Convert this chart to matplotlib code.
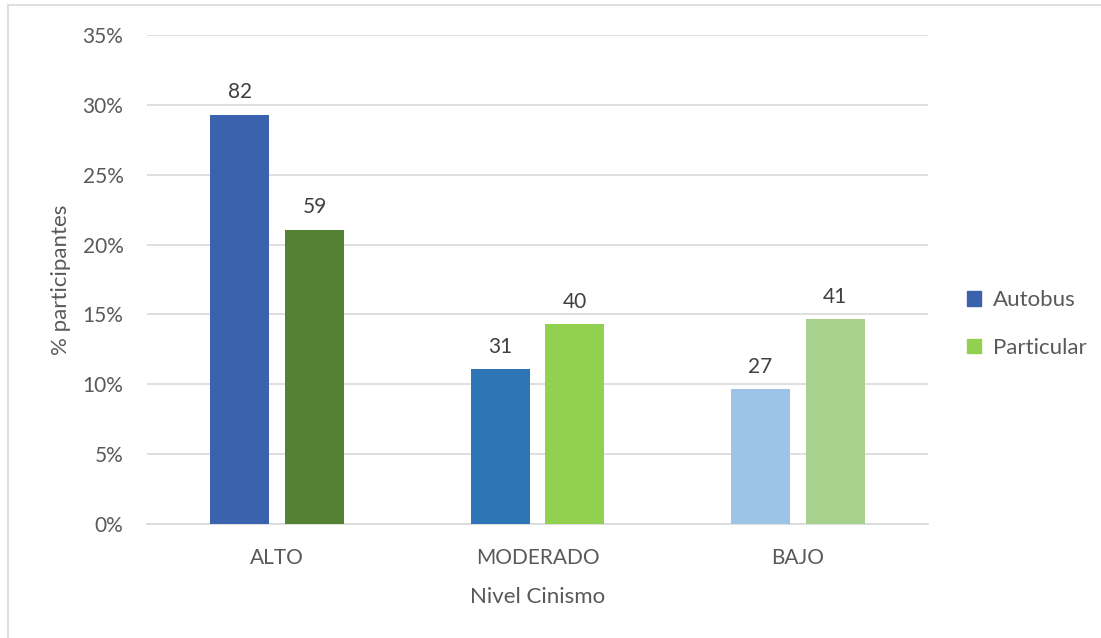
import matplotlib
matplotlib.use("Agg")
import matplotlib.pyplot as plt
from matplotlib.patches import Rectangle, Patch
import numpy as np

categories = ["ALTO", "MODERADO", "BAJO"]
autobus_counts = [82, 31, 27]
particular_counts = [59, 40, 41]
autobus_pct = [29.29, 11.07, 9.64]
particular_pct = [21.07, 14.29, 14.64]
yticks = [0, 5, 10, 15, 20, 25, 30, 35]

autobus_colors = ["#3A62AD", "#2E75B6", "#9DC3E6"]
particular_colors = ["#548235", "#92D050", "#A9D18E"]

plt.rcParams['font.family'] = ['Lato', 'DejaVu Sans']
txt = "#595959"
fs = 15

W, H = 1101, 638
fig = plt.figure(figsize=(W/100, H/100), dpi=100)
fig.patches.append(Rectangle((8/W, -0.1), 1.2, 1 - 5/H + 0.1, transform=fig.transFigure,
                             fill=False, edgecolor="#D9D9D9", linewidth=1.2))

ax = fig.add_axes([147/W, 1 - 524/H, (928-147)/W, (524-35)/H])
x = np.arange(len(categories))
bw = 0.2267
off = 0.144
b1 = ax.bar(x - off, autobus_pct, bw, color=autobus_colors, zorder=3)
b2 = ax.bar(x + off, particular_pct, bw, color=particular_colors, zorder=3)
for bars, counts in ((b1, autobus_counts), (b2, particular_counts)):
    for r, c in zip(bars, counts):
        ax.annotate(str(c), (r.get_x() + r.get_width()/2, r.get_height()),
                    xytext=(0, 9), textcoords="offset points", ha="center", va="bottom",
                    fontsize=fs, color="#404040")

ax.set_xlim(-0.5, 2.5)
ax.set_ylim(0, 35)
ax.set_yticks(yticks)
ax.set_yticklabels([f"{v}%" for v in yticks])
ax.set_xticks(x)
ax.set_xticklabels(categories)
ax.tick_params(axis="both", length=0, labelsize=fs, colors=txt)
ax.tick_params(axis="y", pad=17)
ax.tick_params(axis="x", pad=17)
ax.grid(axis="y", color="#D9D9D9", linewidth=1.2, zorder=0)
for s in ["top", "right", "left"]:
    ax.spines[s].set_visible(False)
ax.spines["bottom"].set_color("#D9D9D9")
ax.spines["bottom"].set_linewidth(1.2)
ax.set_xlabel("Nivel Cinismo", fontsize=fs+1, color=txt, labelpad=14)
ax.set_ylabel("% participantes", fontsize=fs+1, color=txt, labelpad=8)

handles = [Patch(color=autobus_colors[0]), Patch(color=particular_colors[1])]
fig.legend(handles, ["Autobus", "Particular"], loc="center left",
           bbox_to_anchor=(947/W, 1 - 324/H), frameon=False, fontsize=fs+1,
           labelcolor=txt, handlelength=0.65, handleheight=0.65, handletextpad=0.5,
           labelspacing=1.25)

fig.savefig("out.png", dpi=100)
